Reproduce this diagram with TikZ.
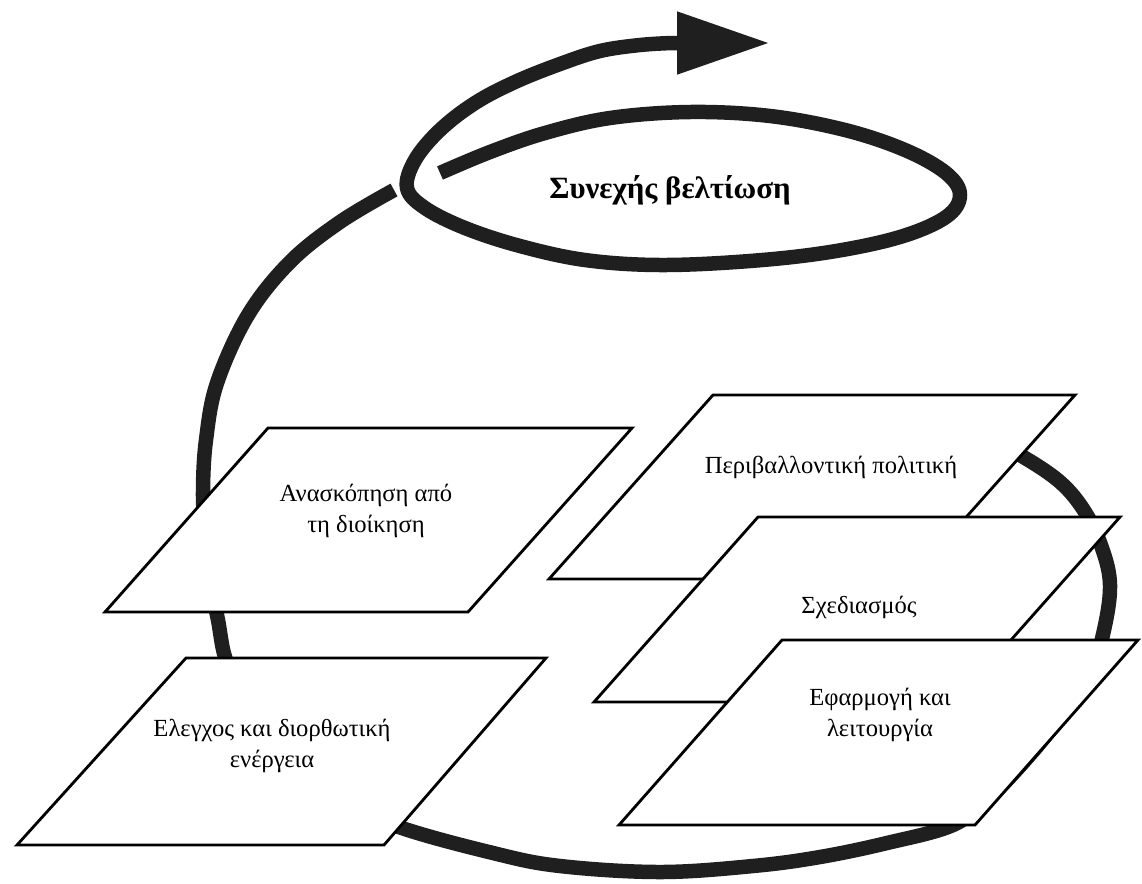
\documentclass[tikz,border=0pt]{standalone}
\usepackage{fontspec}
\setmainfont{Liberation Serif}
\usetikzlibrary{arrows.meta}

\tikzset{
  panel/.style={draw=black, fill=white, line width=1.6pt, line join=miter},
  boxtext/.style={font=\fontsize{14}{18}\selectfont, align=center, inner sep=0pt},
  spiral/.style={draw=black!88, line width=0.29cm},
}

\begin{document}
\begin{tikzpicture}[x=0.02cm, y=-0.02cm]
  \useasboundingbox (0,0) rectangle (1142,883);

  % big loop behind the boxes
  \draw[spiral] plot[smooth, tension=0.6] coordinates {
    (985,438) (1020,455) (1060,482) (1085,512) (1102,548) (1110,585)
    (1104,630) (1090,675) (1062,715) (1028,757) (990,797) (953,825)
    (887,843) (820,857) (753,866) (660,872) (560,866) (493,853) (396,826)
    (330,795) (275,745) (240,690) (225,657) (218,620) (210,580) (205,530)
    (203,490) (206,440) (217,383) (248,315) (290,262) (340,222) (394,190)};

  % loop round the title, ending in the arrow
  \draw[spiral, -{Triangle[length=1.86cm, width=1.18cm]}] plot[smooth, tension=0.6] coordinates {
    (440,173) (490,152) (545,133) (610,118) (690,112) (770,116) (845,130)
    (905,150) (946,173) (960,195) (946,217) (900,237) (830,252) (750,261)
    (660,265) (585,260) (520,246) (465,228) (425,208) (407,188) (415,160)
    (440,130) (475,103) (515,82) (560,64) (600,51) (640,45) (672,43)}
    -- (770,43);
  \node[font=\bfseries\fontsize{17.6}{20}\selectfont] (title) at (670,190) {Συνεχής βελτίωση};

  % right stack, back to front
  \draw[panel] (713,395) -- (1075,395) -- (911,579) -- (549,579) -- cycle;
  \node[boxtext] (policy) at (831,467) {Περιβαλλοντική πολιτική};
  \draw[panel] (758,517) -- (1120,517) -- (956,702) -- (594,702) -- cycle;
  \node[boxtext] (planning) at (859,607) {Σχεδιασμός};
  \draw[panel] (782,640) -- (1138,640) -- (975,825) -- (619,825) -- cycle;
  \node[boxtext] (impl) at (880,715) {Εφαρμογή και\\λειτουργία};

  % left pair
  \draw[panel] (268,428) -- (632,428) -- (468,612) -- (105,612) -- cycle;
  \node[boxtext] (review) at (366,511) {Ανασκόπηση από\\τη διοίκηση};
  \draw[panel] (186,658) -- (546,658) -- (384,845) -- (17,845) -- cycle;
  \node[boxtext] (check) at (272,746) {Ελεγχος και διορθωτική\\ενέργεια};
\end{tikzpicture}
\end{document}
